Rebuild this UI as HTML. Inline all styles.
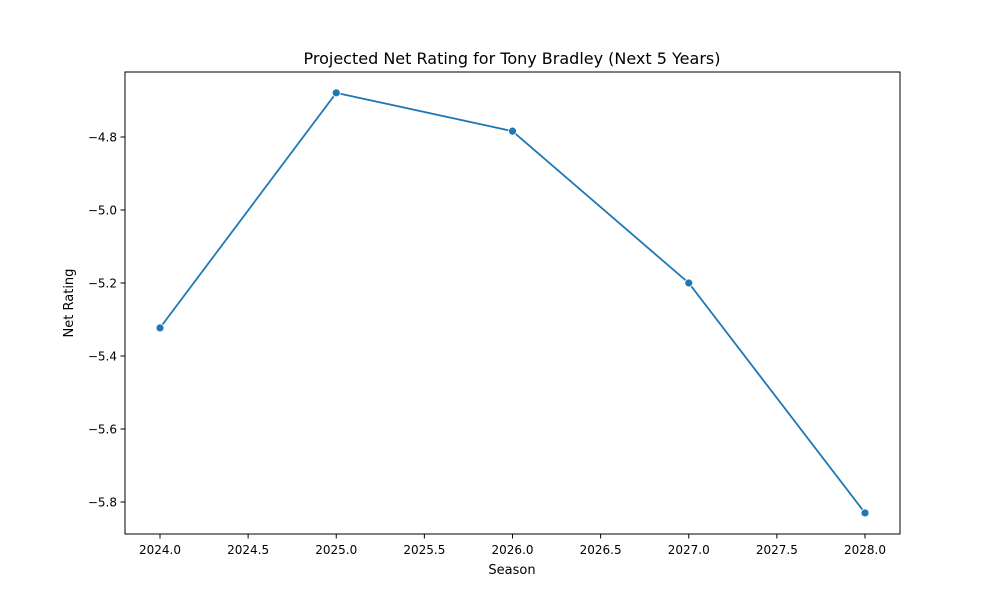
<!DOCTYPE html>
<html><head><meta charset="utf-8"><style>
body{margin:0;background:#fff;font-family:"Liberation Sans","DejaVu Sans",sans-serif;}
svg text{font-family:"DejaVu Sans","Liberation Sans",sans-serif;}
</style></head><body>
<svg id="chart" width="1000" height="600" xmlns="http://www.w3.org/2000/svg">
<rect width="1000" height="600" fill="#fff"/>
<text x="512" y="64" text-anchor="middle" font-size="16">Projected Net Rating for Tony Bradley (Next 5 Years)</text>
<g id="axes"></g>
<rect x="125" y="72" width="775" height="462" fill="none" stroke="#000" stroke-width="1"/>
<text x="512" y="574" text-anchor="middle" font-size="13">Season</text>
<text transform="translate(73,303) rotate(-90)" text-anchor="middle" font-size="13">Net Rating</text>
</svg>
<script>
const seasons=[2024,2025,2026,2027,2028];
const ratings=[-5.323,-4.679,-4.784,-5.2,-5.83];
const xTicks=[2024.0,2024.5,2025.0,2025.5,2026.0,2026.5,2027.0,2027.5,2028.0];
const yTicks=[-4.8,-5.0,-5.2,-5.4,-5.6,-5.8];
const NS="http://www.w3.org/2000/svg";
function xs(v){return 160+(v-2024)*176.25;}
function ys(v){return 137+(-4.8-v)*365;}
const g=document.getElementById('axes');
function mk(t,a){const e=document.createElementNS(NS,t);for(const k in a)e.setAttribute(k,a[k]);g.appendChild(e);return e;}
xTicks.forEach(t=>{
const l=mk('line',{x1:xs(t),x2:xs(t),y1:534,y2:538.5,stroke:'#000'});


const tx=mk('text',{x:xs(t),y:554,'text-anchor':'middle','font-size':'12'});
tx.textContent=t.toFixed(1);


});
yTicks.forEach(t=>{
const l=mk('line',{x1:120.5,x2:125,y1:ys(t),y2:ys(t),stroke:'#000'});


const tx=mk('text',{x:117,y:ys(t)+4.5,'text-anchor':'end','font-size':'12'});
tx.textContent='\u2212'+Math.abs(t).toFixed(1);


});
const pts=seasons.map((s,i)=>xs(s)+','+ys(ratings[i])).join(' ');
const pl=mk('polyline',{points:pts,fill:'none',stroke:'#1f77b4','stroke-width':'1.8'});


seasons.forEach((s,i)=>{
const c=mk('circle',{cx:xs(s),cy:ys(ratings[i]),r:4,fill:'#1f77b4',stroke:'#fff','stroke-width':'0.8'});


});
</script>
</body></html>
